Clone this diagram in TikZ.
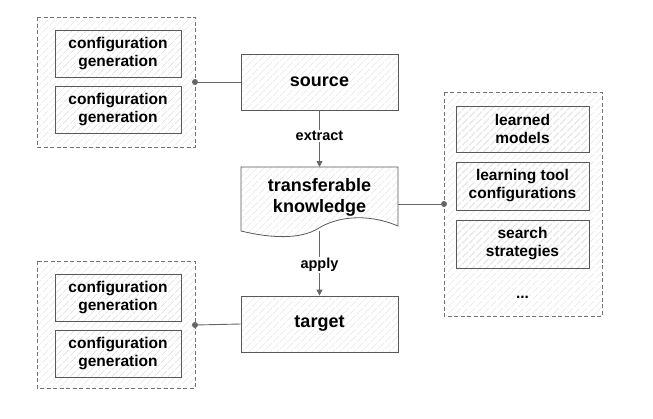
\documentclass[tikz,border=0pt]{standalone}
\usepackage{fontspec}
\setmainfont{Liberation Sans}
\usetikzlibrary{patterns.meta,arrows.meta}
\tikzdeclarepattern{name=sparse,type=uncolored,bounding box={(0,0) and (7pt,7pt)},tile size={(7pt,7pt)},
  code={\draw[line width=0.4pt] (0,0) -- (7pt,7pt);}}
\begin{document}
\begin{tikzpicture}[x=1pt,y=-1pt,
  hatch/.style={pattern=sparse,pattern color=black!13},
  frame/.style={draw=black!55,dash pattern=on 4pt off 2.5pt,hatch},
  box/.style={draw=black!65,fill=white,hatch,line width=0.8pt,font=\bfseries\fontsize{15.5}{18}\selectfont,align=center,inner sep=0pt},
  big/.style={draw=black!65,hatch,line width=0.8pt,font=\bfseries\fontsize{18}{21}\selectfont,align=center,inner sep=0pt},
  conn/.style={draw=black!60,line width=0.9pt},
  dot/.style={circle,fill=black!60,inner sep=0pt,minimum size=6pt},
  lab/.style={font=\bfseries\fontsize{14.5}{17}\selectfont,fill=white,inner sep=1pt}]
\useasboundingbox (0,0) rectangle (653,418);
\draw[frame] (37,17) rectangle (195,147);
\node[box,minimum width=126pt,minimum height=47pt] (c1) at (118,53.5) {configuration\\generation};
\node[box,minimum width=126pt,minimum height=47pt] (c2) at (118,109.5) {configuration\\generation};
\draw[frame] (37,261) rectangle (195,388);
\node[box,minimum width=126pt,minimum height=47pt] (c3) at (118,297.5) {configuration\\generation};
\node[box,minimum width=126pt,minimum height=47pt] (c4) at (118,353.5) {configuration\\generation};
\draw[frame] (444,92) rectangle (602,316);
\node[box,minimum width=133pt,minimum height=46pt] (r1) at (522.5,129) {learned\\models};
\node[box,minimum width=133pt,minimum height=48pt] (r2) at (522.5,186) {learning tool\\configurations};
\node[box,minimum width=133pt,minimum height=48pt] (r3) at (522.5,244) {search\\strategies};
\node[font=\bfseries\fontsize{15.5}{18}\selectfont] (r4) at (522.5,297) {...};
\node[big,minimum width=157pt,minimum height=56pt] (src) at (319.5,82) {source};
\node[big,minimum width=157pt,minimum height=56pt] (tgt) at (319.5,324) {target};
\path[draw=black!65,hatch,line width=0.8pt] (241,167) -- (398,167) -- (398,226)
  .. controls (365,212) and (335,218) .. (319,228) .. controls (300,240) and (270,238) .. (241,231) -- cycle;
\node[font=\bfseries\fontsize{18}{21}\selectfont,align=center] (tk) at (319.5,197) {transferable\\knowledge};
\coordinate (tkb) at (319.5,231);
\coordinate (tkr) at (398,204);
\draw[conn,-{Triangle[length=6pt,width=6pt]}] (src.south) -- (319.5,167);
\node[lab] (ex) at (319.5,136) {extract};
\draw[conn,-{Triangle[length=6pt,width=6pt]}] (tkb) -- (tgt.north);
\node[lab] (ap) at (319.5,265) {apply};
\node[dot] (d1) at (195,82) {};
\node[dot] (d2) at (444,204) {};
\node[dot] (d3) at (195,325) {};
\draw[conn] (d1) -- (src.west);
\draw[conn] (d3) -- (tgt.west);
\draw[conn] (tkr) -- (d2);
\end{tikzpicture}
\end{document}
